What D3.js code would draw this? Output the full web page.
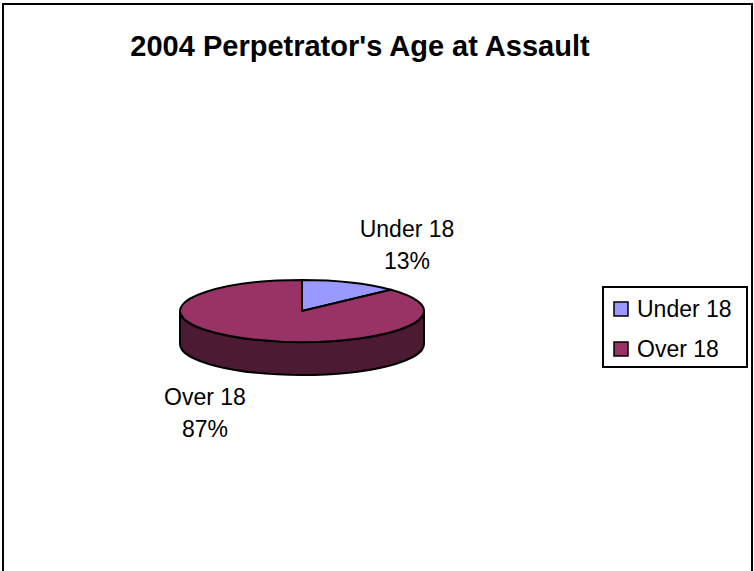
<!DOCTYPE html>
<meta charset="utf-8">
<head>
  <title>2004 Perpetrator's Age at Assault</title>
</head>

<style>
body {
  margin: 0;
  font-family: Arial, "Liberation Sans", sans-serif;
  background: #fff;
}
</style>

<body>
  <div id="content">
    <svg width="754" height="571"></svg>
  </div>

  <script src="https://cdnjs.cloudflare.com/ajax/libs/d3/7.8.5/d3.min.js"></script>

  <script>
var title = "2004 Perpetrator's Age at Assault";
var categories = ['Under 18', 'Over 18'];
var shares = [13, 87];
var topColours = ['#9999ff', '#993366'];
var sideColours = ['#4d4d80', '#4d1a33'];

var svg = d3.select('#content svg');

// outer frame
svg.append('rect')
  .attr('x', 3).attr('y', 4)
  .attr('width', 749).attr('height', 580)
  .attr('fill', 'none')
  .attr('stroke', '#000')
  .attr('stroke-width', 2);

svg.append('text')
  .attr('x', 360).attr('y', 56)
  .attr('text-anchor', 'middle')
  .style('font-size', '29px')
  .style('font-weight', 'bold')
  .text(title);

// 3d pie
var cx = 302, cy = 311, rx = 122, ry = 31, depth = 33;

var pie = d3.pie().sort(null).value(function(d) { return d; });
var arcs = pie(shares);

function pt(a, dy) {
  return [cx + rx * Math.sin(a), cy - ry * Math.cos(a) + (dy || 0)];
}

var g = svg.append('g');

// side walls (front half only, angles between pi/2 and 3pi/2)
arcs.forEach(function(d, i) {
  var a0 = Math.max(d.startAngle, Math.PI / 2);
  var a1 = Math.min(d.endAngle, Math.PI * 3 / 2);
  if (a1 <= a0) return;
  var p0 = pt(a0), p1 = pt(a1);
  var path = 'M' + p0 + 'A' + rx + ',' + ry + ' 0 0 1 ' + p1 +
    'L' + pt(a1, depth) +
    'A' + rx + ',' + ry + ' 0 0 0 ' + pt(a0, depth) + 'Z';
  g.append('path')
    .attr('d', path)
    .attr('fill', sideColours[i])
    .attr('stroke', '#000')
    .attr('stroke-width', 2)
    .attr('stroke-linejoin', 'round');
});

// top faces
var arc = d3.arc().innerRadius(0).outerRadius(rx);
g.selectAll('path.top')
  .data(arcs)
  .enter().append('path')
  .attr('class', 'top')
  .attr('transform', 'translate(' + cx + ',' + cy + ') scale(1,' + (ry / rx) + ')')
  .attr('d', arc)
  .attr('fill', function(d, i) { return topColours[i]; })
  .attr('stroke', '#000')
  .attr('stroke-width', 2)
  .attr('vector-effect', 'non-scaling-stroke')
  .attr('stroke-linejoin', 'round');

// data labels
var labelPos = [[407, 237], [205, 405]];
arcs.forEach(function(d, i) {
  var t = svg.append('text')
    .attr('text-anchor', 'middle')
    .style('font-size', '23px');
  t.append('tspan').attr('x', labelPos[i][0]).attr('y', labelPos[i][1])
    .text(categories[i]);
  t.append('tspan').attr('x', labelPos[i][0]).attr('dy', 32)
    .text(d3.format('.0f')(shares[i]) + '%');
});

// legend
var legend = svg.append('g');
legend.append('rect')
  .attr('x', 603).attr('y', 287)
  .attr('width', 144).attr('height', 80)
  .attr('fill', '#fff')
  .attr('stroke', '#000')
  .attr('stroke-width', 2);

var rows = legend.selectAll('g.row')
  .data(categories)
  .enter().append('g')
  .attr('class', 'row')
  .attr('transform', function(d, i) { return 'translate(614,' + (302 + i * 40) + ')'; });

rows.append('rect')
  .attr('width', 14).attr('height', 14)
  .attr('fill', function(d, i) { return topColours[i]; })
  .attr('stroke', '#000')
  .attr('stroke-width', 1.5);

rows.append('text')
  .attr('x', 23).attr('y', 15)
  .style('font-size', '23px')
  .text(function(d) { return d; });
  </script>
</body>
</html>
